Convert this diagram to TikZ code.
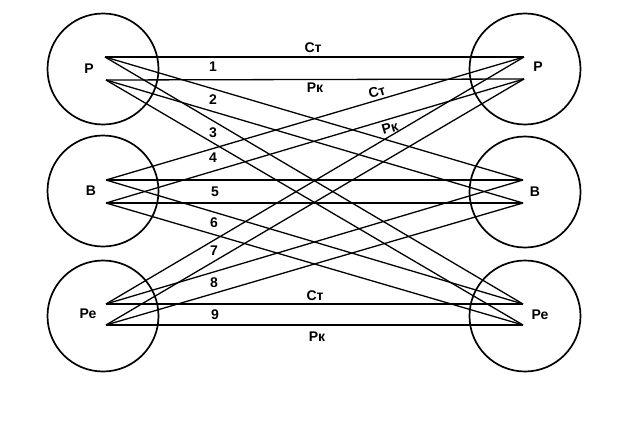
\documentclass[tikz,border=0pt]{standalone}
\usepackage{fontspec}
\setmainfont{Liberation Sans}
\begin{document}
\begin{tikzpicture}[x=1pt,y=-1pt,
  ego/.style={circle,draw,line width=1.7pt,minimum size=111pt,inner sep=0pt},
  conn/.style={line width=1.3pt},
  lbl/.style={font=\fontsize{14}{16}\selectfont\bfseries,inner sep=0pt}]
\useasboundingbox (0,0) rectangle (640,423);
% circles
\node[ego] (LP) at (103,69) {};
\node[ego] (LB) at (103,191) {};
\node[ego] (LC) at (103,316) {};
\node[ego] (RP) at (525,69) {};
\node[ego] (RB) at (525,192) {};
\node[ego] (RC) at (525,316) {};
% ego-state labels
\node[lbl] (tLP) at (89,69) {Р};
\node[lbl] (tLB) at (91,191) {В};
\node[lbl] (tLC) at (88,314) {Ре};
\node[lbl] (tRP) at (538,67) {Р};
\node[lbl] (tRB) at (535,192) {В};
\node[lbl] (tRC) at (540,315) {Ре};
% end points
\coordinate (LPu) at (105,57);
\coordinate (LPd) at (106,80);
\coordinate (LBu) at (106,180);
\coordinate (LBd) at (106,203);
\coordinate (LCu) at (106,304);
\coordinate (LCd) at (106,325);
\coordinate (RPu) at (524,57);
\coordinate (RPd) at (524,79);
\coordinate (RBu) at (523,180);
\coordinate (RBd) at (523,203);
\coordinate (RCu) at (523,304);
\coordinate (RCd) at (523,325);
% stimulus and reaction lines
\foreach \a in {P,B,C}{
  \foreach \b in {P,B,C}{
    \draw[conn] (L\a u) -- (R\b u);
    \draw[conn] (R\b d) -- (L\a d);
  }
}
% numbers
\node[lbl] (n1) at (213,67) {1};
\node[lbl] (n2) at (213,100) {2};
\node[lbl] (n3) at (213,133) {3};
\node[lbl] (n4) at (213,158) {4};
\node[lbl] (n5) at (215,192) {5};
\node[lbl] (n6) at (214,223) {6};
\node[lbl] (n7) at (214,251) {7};
\node[lbl] (n8) at (214,283) {8};
\node[lbl] (n9) at (215,315) {9};
% stimulus / reaction labels
\node[lbl] (s1) at (313,48) {Ст};
\node[lbl] (r1) at (315,88) {Рк};
\node[lbl,rotate=16] (s4) at (377,92) {Ст};
\node[lbl,rotate=16] (r4) at (390,128) {Рк};
\node[lbl] (s9) at (315,296) {Ст};
\node[lbl] (r9) at (317,337) {Рк};
\end{tikzpicture}
\end{document}
